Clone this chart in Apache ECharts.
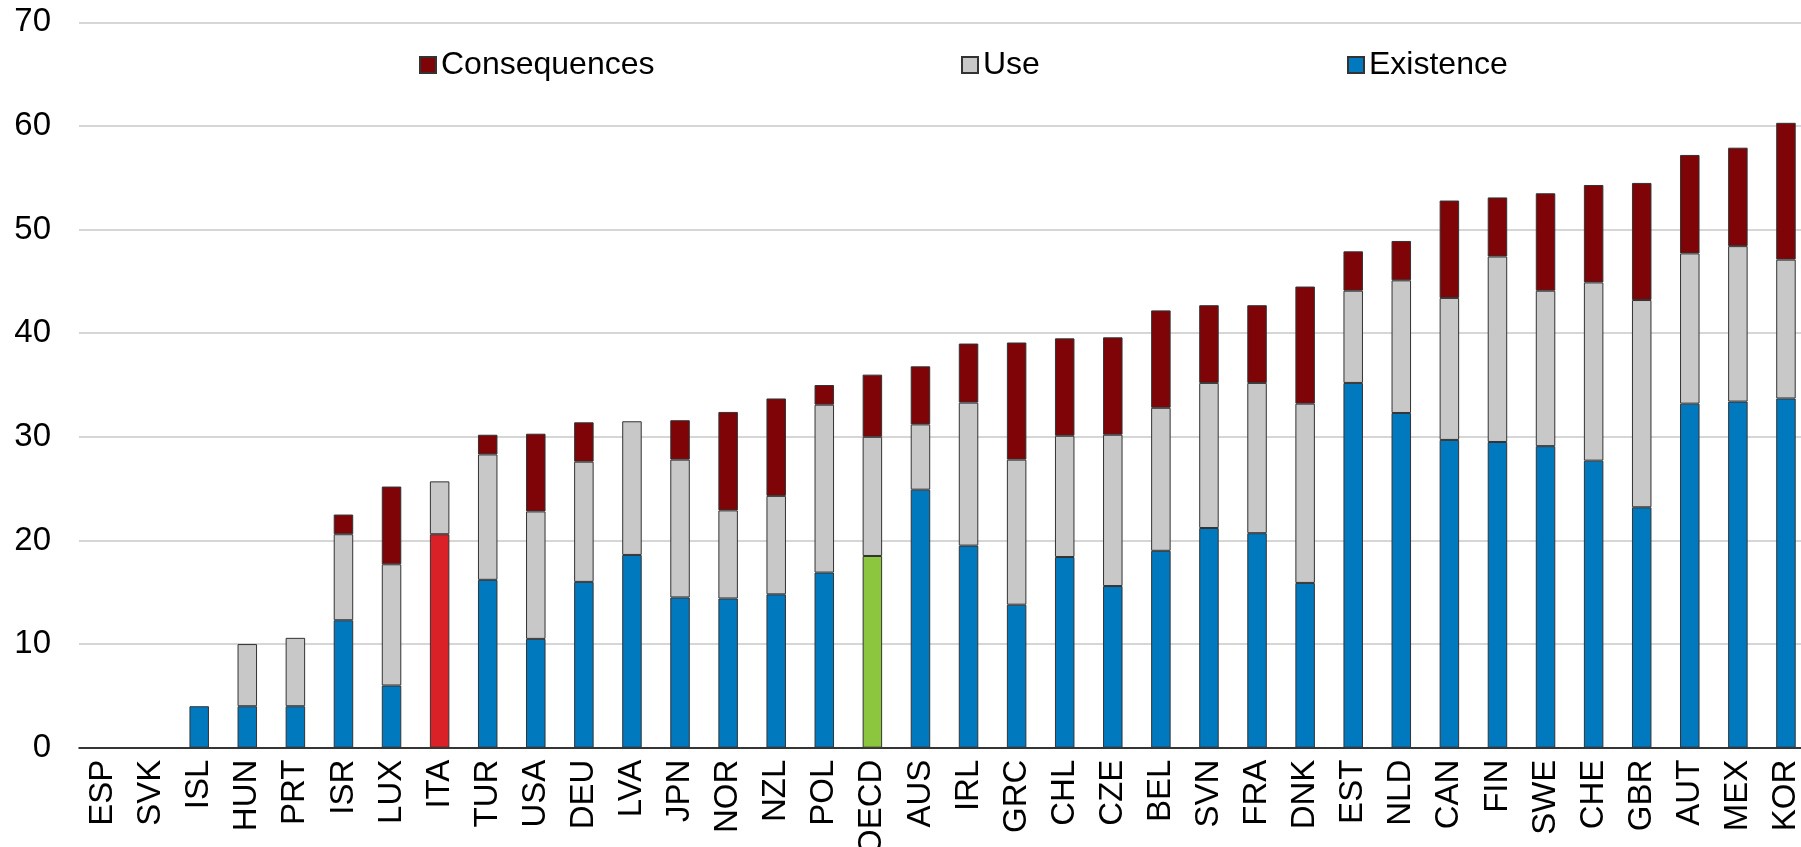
<!DOCTYPE html>
<html lang="en">

<head>
  <meta charset="UTF-8">
  <title>Chart</title>
  <style>
    html, body { margin: 0; padding: 0; background: #fff; }
  </style>
</head>

<body>
  <div class="wrapper" style="width:1801px;height:847px;"></div>

  <script src="https://cdn.jsdelivr.net/npm/echarts@6/dist/echarts.min.js"></script>
  <script>
    const categories = ['ESP', 'SVK', 'ISL', 'HUN', 'PRT', 'ISR', 'LUX', 'ITA', 'TUR', 'USA', 'DEU', 'LVA',
      'JPN', 'NOR', 'NZL', 'POL', 'OECD', 'AUS', 'IRL', 'GRC', 'CHL', 'CZE', 'BEL', 'SVN', 'FRA', 'DNK',
      'EST', 'NLD', 'CAN', 'FIN', 'SWE', 'CHE', 'GBR', 'AUT', 'MEX', 'KOR']
    const existence = [0, 0, 4.0, 4.0, 4.0, 12.3, 6.0, 20.6, 16.2, 10.5, 16.0, 18.6,
      14.5, 14.4, 14.8, 16.9, 18.5, 24.9, 19.5, 13.8, 18.4, 15.6, 19.0, 21.2, 20.7, 15.9,
      35.2, 32.3, 29.7, 29.5, 29.1, 27.7, 23.2, 33.2, 33.4, 33.7]
    const use = [0, 0, 0, 6.0, 6.6, 8.3, 11.7, 5.1, 12.1, 12.3, 11.6, 12.9,
      13.3, 8.5, 9.5, 16.2, 11.5, 6.3, 13.8, 14.0, 11.7, 14.6, 13.8, 14.0, 14.5, 17.3,
      8.9, 12.8, 13.7, 17.9, 15.0, 17.2, 20.0, 14.5, 15.0, 13.4]
    const consequences = [0, 0, 0, 0, 0, 1.9, 7.5, 0, 1.9, 7.5, 3.8, 0,
      3.8, 9.5, 9.4, 1.9, 6.0, 5.6, 5.7, 11.3, 9.4, 9.4, 9.4, 7.5, 7.5, 11.3,
      3.8, 3.8, 9.4, 5.7, 9.4, 9.4, 11.3, 9.5, 9.5, 13.2]
    const yTicks = { min: 0, max: 70, interval: 10 }

    // highlighted countries get their own colour for the bottom segment
    const highlight = { ITA: '#DA2128', OECD: '#8CC63F' }

    const blue = '#0179BF'
    const grey = '#C8C8C8'
    const darkRed = '#7E0407'
    const font = 'Liberation Sans, Arial, sans-serif'

    const echart = echarts.init(document.querySelector('.wrapper'))

    const toData = (arr, colours) => arr.map((v, i) => {
      if (!v) return '-'
      const c = colours && colours[categories[i]]
      return c ? { value: v, itemStyle: { color: c } } : v
    })

    const barStyle = (color) => ({ color: color, borderColor: '#333', borderWidth: 1 })

    const legendBase = {
      top: 49,
      padding: 0,
      itemWidth: 16,
      itemHeight: 16,
      itemGap: 7,
      textStyle: { fontSize: 32, color: '#000', fontFamily: font },
      icon: 'rect'
    }

    const option = {
      animation: false,
      legend: [
        Object.assign({ left: 419, data: ['Consequences'] }, legendBase),
        Object.assign({ left: 961, data: ['Use'] }, legendBase),
        Object.assign({ left: 1347, data: ['Existence'] }, legendBase)
      ],
      grid: {
        left: 79,
        top: 22.3,
        width: 1731,
        height: 725.4,
        containLabel: false,
        // labels run off the bottom/right edge like in the original, don't squeeze the grid
        outerBoundsMode: 'none'
      },
      xAxis: {
        type: 'category',
        data: categories,
        axisLine: { lineStyle: { color: '#000', width: 1.5 } },
        axisTick: { inside: true, length: 9, interval: 0, lineStyle: { color: '#000', width: 1.3 } },
        axisLabel: {
          interval: 0,
          rotate: 90,
          margin: 12,
          fontSize: 33,
          color: '#000',
          fontFamily: font
        }
      },
      yAxis: {
        type: 'value',
        min: yTicks.min,
        max: yTicks.max,
        interval: yTicks.interval,
        axisLine: { show: false },
        axisTick: { show: false },
        axisLabel: { fontSize: 33, color: '#000', margin: 28, fontFamily: font },
        splitLine: { lineStyle: { color: '#C8C8C8', width: 1.5 } }
      },
      series: [
        {
          name: 'Existence',
          type: 'bar',
          stack: 'total',
          barWidth: 19.5,
          itemStyle: barStyle(blue),
          data: toData(existence, highlight)
        },
        {
          name: 'Use',
          type: 'bar',
          stack: 'total',
          barWidth: 19.5,
          itemStyle: barStyle(grey),
          data: toData(use)
        },
        {
          name: 'Consequences',
          type: 'bar',
          stack: 'total',
          barWidth: 19.5,
          itemStyle: barStyle(darkRed),
          data: toData(consequences)
        }
      ]
    }

    echart.setOption(option)
  </script>

</body>

</html>
